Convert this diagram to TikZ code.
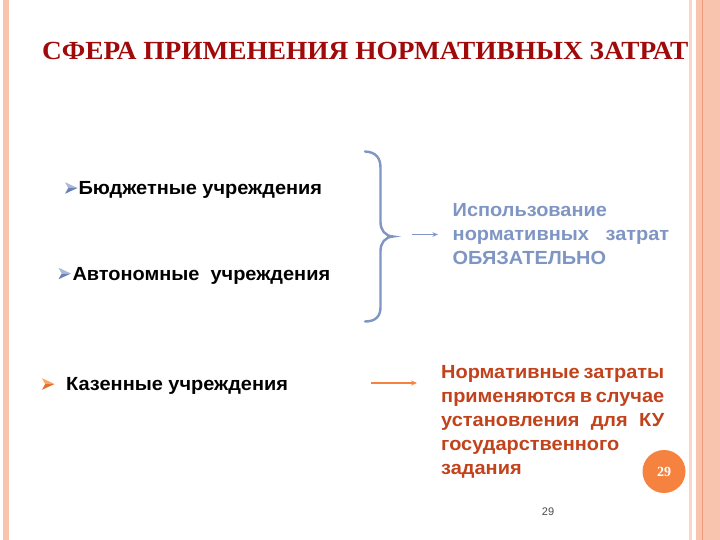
\documentclass[tikz,border=0pt]{standalone}
\usepackage{fontspec}
\usepackage{graphicx}
\setmainfont{Liberation Sans}
\newfontfamily\titlefont{Liberation Serif}
\usetikzlibrary{arrows.meta}
\definecolor{salmon}{HTML}{F9C4AE}
\definecolor{salmonlight}{HTML}{FBD6C6}
\definecolor{salmonline}{HTML}{EE9C78}
\definecolor{titlered}{HTML}{A00A0A}
\definecolor{bluegrey}{HTML}{7F96C4}
\definecolor{bluelight}{HTML}{A9B9D9}
\definecolor{bluedark}{HTML}{6A82B5}
\definecolor{rust}{HTML}{C2421C}
\definecolor{orangec}{HTML}{F5833F}
\definecolor{orangelight}{HTML}{F8A56A}
\definecolor{orangedark}{HTML}{E5702C}
\newcommand{\wide}[1]{\scalebox{1.05}[1]{#1}}
\tikzset{
  basetext/.style={anchor=base west, inner sep=0pt, font=\fontsize{19}{22}\selectfont\bfseries},
  itemtext/.style={basetext, text=black},
  bluetext/.style={basetext, text=bluegrey},
  rusttext/.style={basetext, text=rust},
  bracepath/.style={draw=bluegrey, line width=2.4pt, line cap=round},
}
\newcommand{\mybullet}[4]{% x, y(center), light colour, dark colour
  \fill[#3] (#1,#2-5.8) -- (#1+12.5,#2) -- (#1+3.2,#2) -- cycle;
  \fill[#4] (#1,#2+5.8) -- (#1+12.5,#2) -- (#1+3.2,#2) -- cycle;
}
\begin{document}
\begin{tikzpicture}[x=1pt,y=-1pt]
\useasboundingbox (0,0) rectangle (720,540);
\fill[white] (0,0) rectangle (720,540);
% borders
\fill[salmon] (3,0) rectangle (9,540);
\fill[salmonlight] (689,0) rectangle (692,540);
\fill[salmon] (696,0) rectangle (720,540);
\draw[salmonline, line width=1.2pt] (702.5,0) -- (702.5,540);

% title
\node[anchor=base west, inner sep=0pt, text=titlered] (title) at (42,60)
  {\resizebox{646pt}{17.3pt}{\titlefont\bfseries СФЕРА ПРИМЕНЕНИЯ НОРМАТИВНЫХ ЗАТРАТ}};

% items
\mybullet{65}{188}{bluelight}{bluedark}
\node[itemtext] (b1) at (78.3,195) {\wide{Бюджетные учреждения}};
\mybullet{58.5}{273.5}{bluelight}{bluedark}
\node[itemtext] (b2) at (72.3,280) {\wide{Автономные\ \ учреждения}};
\mybullet{42}{384}{orangelight}{orangedark}
\node[itemtext] (b3) at (66,390) {\wide{Казенные учреждения}};

% brace
\draw[bracepath] (365,151.5) .. controls (376,152) and (380.5,158) .. (380.5,168)
  -- (380.5,222) .. controls (380.5,230) and (385,236) .. (393,236.5)
  .. controls (385,237) and (380.5,243) .. (380.5,251)
  -- (380.5,307) .. controls (380.5,316) and (376,321.5) .. (365,321.5);

% blue text
\node[bluetext] (u1) at (452.5,217) {\wide{Использование}};
\node[bluetext] (u2) at (452.5,240.5) {\wide{\makebox[206.2pt][s]{нормативных затрат}}};
\node[bluetext] (u3) at (452.5,264) {\wide{ОБЯЗАТЕЛЬНО}};
\coordinate (ba) at (411.5,234.5);
\coordinate (bb) at (438,234.5);
\draw[bluegrey, line width=1.2pt, -{Stealth[length=5.5pt,width=4.5pt]}] (ba) -- (bb);

% rust text
\node[rusttext] (k1) at (441,378) {\wide{\makebox[212.4pt][s]{Нормативные затраты}}};
\node[rusttext] (k2) at (441,402) {\wide{\makebox[212.4pt][s]{применяются в случае}}};
\node[rusttext] (k3) at (441,426) {\wide{\makebox[212.4pt][s]{установления для КУ}}};
\node[rusttext] (k4) at (441,450) {\wide{государственного}};
\node[rusttext] (k5) at (441,474) {\wide{задания}};
\coordinate (oa) at (371,383);
\coordinate (ob) at (417,383);
\draw[orangec, line width=1.8pt, -{Stealth[length=6pt,width=5pt]}] (oa) -- (ob);

% circle page badge
\node[circle, fill=orangec, minimum size=43pt, inner sep=0pt, text=white,
  font=\titlefont\bfseries\fontsize{14}{14}\selectfont] (badge) at (664,471.5) {29};

% page number
\node[anchor=base, inner sep=0pt, text=black!70, font=\fontsize{11}{11}\selectfont] (pn) at (548,515) {29};
\end{tikzpicture}
\end{document}
